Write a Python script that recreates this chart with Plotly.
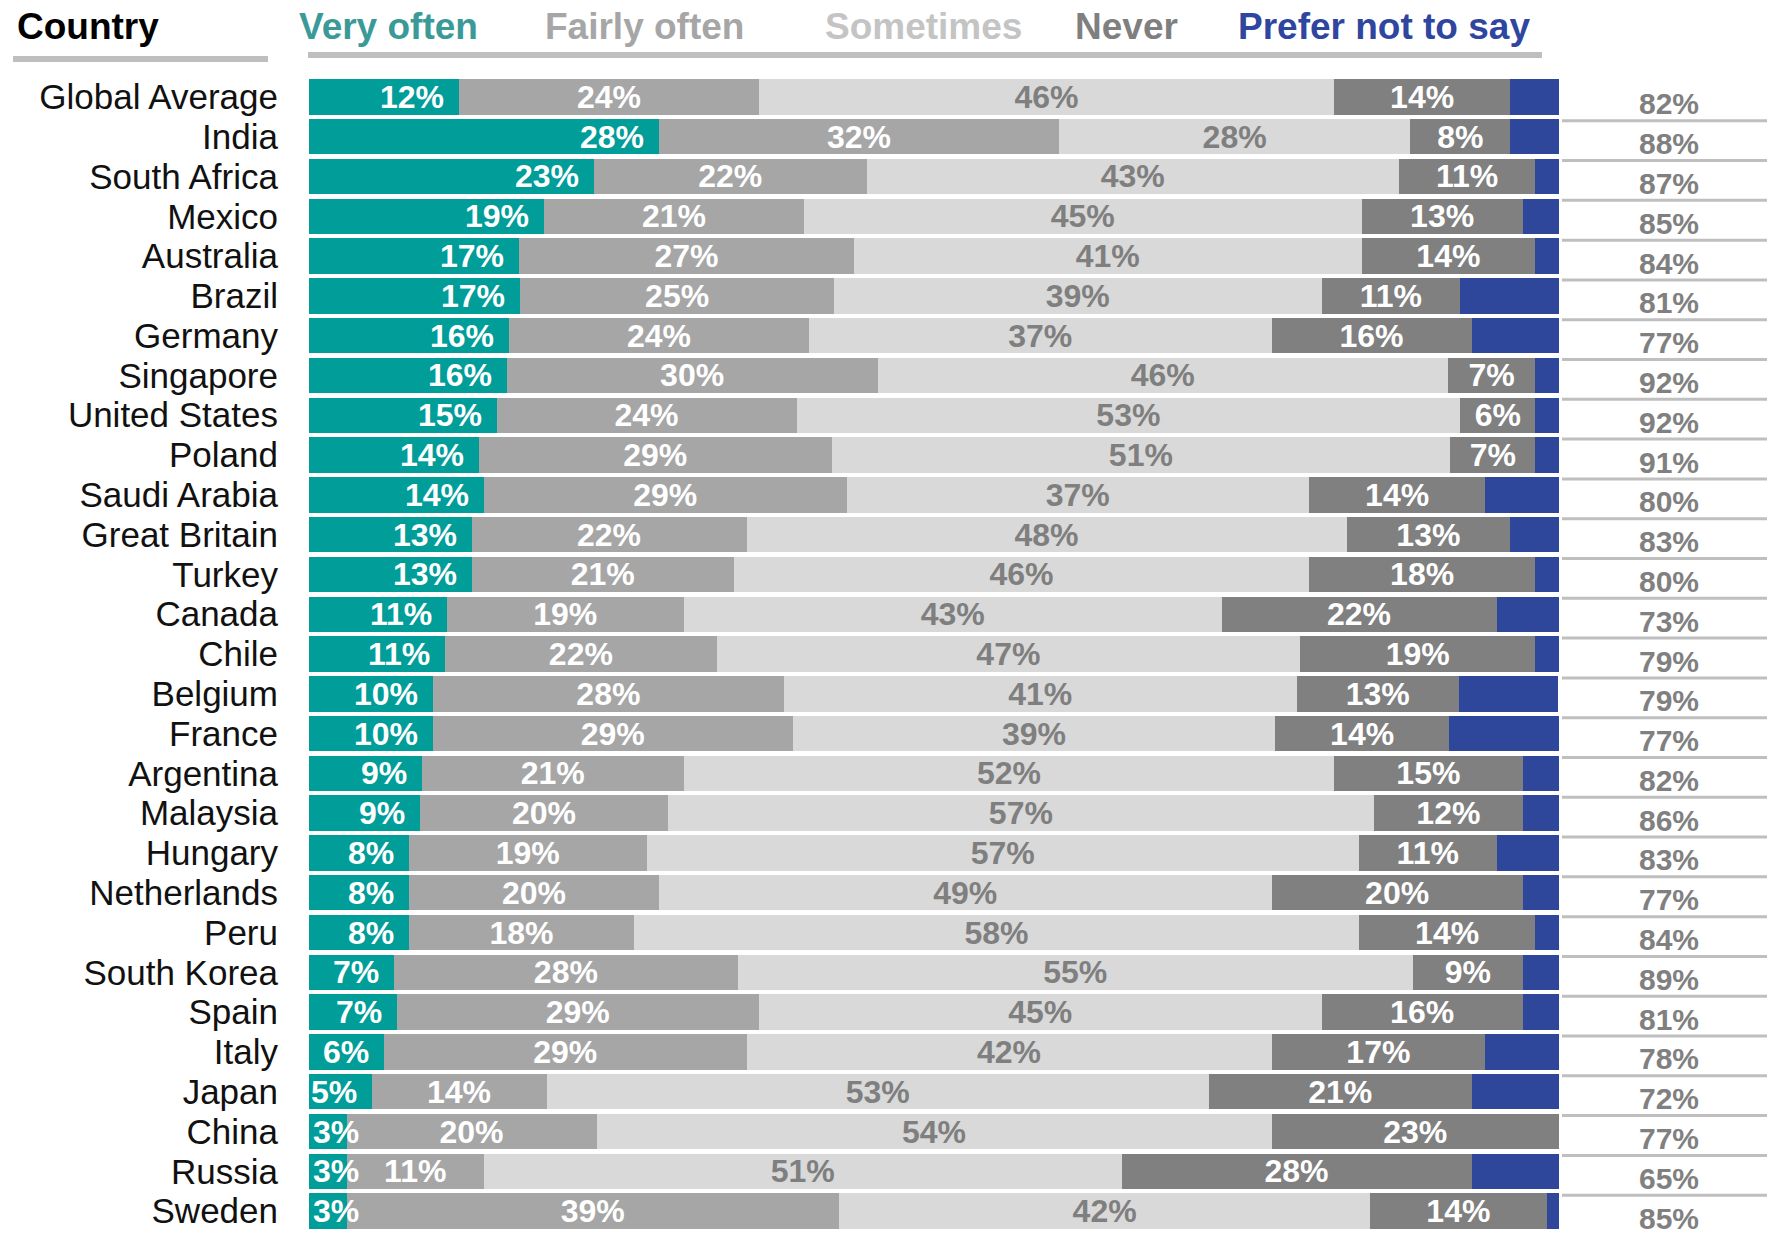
import plotly.graph_objects as go

countries = ['Global Average', 'India', 'South Africa', 'Mexico', 'Australia', 'Brazil',
             'Germany', 'Singapore', 'United States', 'Poland', 'Saudi Arabia',
             'Great Britain', 'Turkey', 'Canada', 'Chile', 'Belgium', 'France',
             'Argentina', 'Malaysia', 'Hungary', 'Netherlands', 'Peru', 'South Korea',
             'Spain', 'Italy', 'Japan', 'China', 'Russia', 'Sweden']

# bar widths
very_often = [12.0, 28.0, 22.8, 18.8, 16.8, 16.9, 16.0, 15.8, 15.0, 13.6, 14.0, 13.0, 13.0, 11.0,
              10.9, 9.9, 9.9, 9.0, 8.9, 8.0, 8.0, 8.0, 6.8, 7.0, 6.0, 5.0, 3.0, 3.0, 3.0]
fairly_often = [24.0, 32.0, 21.8, 20.8, 26.8, 25.1, 24.0, 29.7, 24.0, 28.2, 29.0, 22.0, 21.0, 19.0,
                21.7, 28.1, 28.8, 21.0, 19.8, 19.0, 20.0, 18.0, 27.5, 29.0, 29.0, 14.0, 20.0, 11.0, 39.4]
sometimes = [46.0, 28.1, 42.6, 44.6, 40.6, 39.0, 37.0, 45.6, 53.1, 49.5, 37.0, 48.0, 46.0, 43.0,
             46.7, 41.0, 38.6, 52.0, 56.5, 57.0, 49.0, 58.0, 54.0, 45.0, 42.0, 53.0, 54.0, 51.0, 42.5]
never = [14.1, 8.0, 10.9, 12.9, 13.9, 11.1, 16.0, 7.0, 6.0, 6.8, 14.1, 13.1, 18.1, 22.0,
         18.8, 13.0, 13.9, 15.1, 11.9, 11.0, 20.1, 14.1, 8.8, 16.1, 17.1, 21.0, 23.0, 28.0, 14.1]
prefer_not = [3.9, 3.9, 1.9, 2.9, 1.9, 7.9, 7.0, 1.9, 1.9, 1.9, 5.9, 3.9, 1.9, 5.0,
              1.9, 7.9, 8.8, 2.9, 2.9, 5.0, 2.9, 1.9, 2.9, 2.9, 5.9, 7.0, 0.0, 7.0, 1.0]

# printed labels
very_often_lbl = [12, 28, 23, 19, 17, 17, 16, 16, 15, 14, 14, 13, 13, 11, 11, 10, 10, 9, 9, 8, 8, 8, 7, 7, 6, 5, 3, 3, 3]
fairly_often_lbl = [24, 32, 22, 21, 27, 25, 24, 30, 24, 29, 29, 22, 21, 19, 22, 28, 29, 21, 20, 19, 20, 18, 28, 29, 29, 14, 20, 11, 39]
sometimes_lbl = [46, 28, 43, 45, 41, 39, 37, 46, 53, 51, 37, 48, 46, 43, 47, 41, 39, 52, 57, 57, 49, 58, 55, 45, 42, 53, 54, 51, 42]
never_lbl = [14, 8, 11, 13, 14, 11, 16, 7, 6, 7, 14, 13, 18, 22, 19, 13, 14, 15, 12, 11, 20, 14, 9, 16, 17, 21, 23, 28, 14]
net_lbl = [82, 88, 87, 85, 84, 81, 77, 92, 92, 91, 80, 83, 80, 73, 79, 79, 77, 82, 86, 83, 77, 84, 89, 81, 78, 72, 77, 65, 85]

headers = ['Very often', 'Fairly often', 'Sometimes', 'Never', 'Prefer not to say']
header_colors = ['#3a9a98', '#a6a6a6', '#c4c4c4', '#7f7f7f', '#2f46a0']
bar_colors = ['#009d99', '#a6a6a6', '#d9d9d9', '#808080', '#2f479b']

FONT = 'Liberation Sans, Arial, sans-serif'
W, H = 1775, 1235
OFF = 8  # page body margin, the figure is drawn 8px in from the corner
ML = 309 - OFF
MT = 77 - OFF
MB = H - (1231 - OFF)
PW, PH = W - ML, H - MT - MB


def px(x):
    # screenshot pixel -> paper x
    return (x - OFF - ML) / PW


def py(y):
    # screenshot pixel -> paper y
    return (H - MB - (y - OFF)) / PH


fig = go.Figure()

series = [
    (very_often, None, 'white'),
    (fairly_often, fairly_often_lbl, 'white'),
    (sometimes, sometimes_lbl, '#7f7f7f'),
    (never, never_lbl, 'white'),
    (prefer_not, None, 'white'),
]
for (vals, lbls, tcol), name, col in zip(series, headers, bar_colors):
    fig.add_trace(go.Bar(
        x=vals, y=countries, orientation='h', name=name,
        marker=dict(color=col, line=dict(width=0)),
        text=[f'{v}%' for v in lbls] if lbls else None,
        textposition='inside' if lbls else 'none',
        insidetextanchor='middle', textangle=0, constraintext='none',
        textfont=dict(family=FONT, size=32, color=tcol, weight='bold'),
        hoverinfo='skip',
    ))

# "Very often" labels sit at the inner end of the teal segment
for c, v, lbl in zip(countries, very_often, very_often_lbl):
    small = v < 4.5
    fig.add_annotation(
        x=0 if small else v, y=c, xref='x', yref='y',
        text=f'{lbl}%', showarrow=False,
        xanchor='left' if small else 'right', xshift=2 if small else -13,
        font=dict(family=FONT, size=32, color='white', weight='bold'),
    )

# right-hand column of totals with separator lines
for i, (c, n) in enumerate(zip(countries, net_lbl)):
    fig.add_annotation(
        x=px(1669), y=c, xref='paper', yref='y', yshift=-7,
        text=f'{n}%', showarrow=False, xanchor='center',
        font=dict(family=FONT, size=30, color='#808080', weight='bold'),
    )
    if i < len(countries) - 1:
        fig.add_shape(type='line', xref='paper', yref='y',
                      x0=px(1562), x1=1, y0=i + 0.6, y1=i + 0.6,
                      line=dict(color='#bfbfbf', width=3))

# header row
fig.add_annotation(x=px(15), y=py(27), xref='paper', yref='paper', text='Country',
                   showarrow=False, xanchor='left', yanchor='middle',
                   font=dict(family=FONT, size=37, color='black', weight='bold'))
for h, hc, cx in zip(headers, header_colors, [388, 644, 923, 1126, 1384]):
    fig.add_annotation(x=px(cx), y=py(27), xref='paper', yref='paper', text=h,
                       showarrow=False, xanchor='center', yanchor='middle',
                       font=dict(family=FONT, size=37, color=hc, weight='bold'))

fig.add_shape(type='line', xref='paper', yref='paper', x0=px(13), x1=px(268),
              y0=py(59), y1=py(59), line=dict(color='#bfbfbf', width=6))
fig.add_shape(type='line', xref='paper', yref='paper', x0=px(308), x1=px(1542),
              y0=py(55), y1=py(55), line=dict(color='#bfbfbf', width=6))

fig.update_layout(
    width=W, height=H, barmode='stack', bargap=0.11, showlegend=False,
    margin=dict(l=ML, r=0, t=MT, b=MB, autoexpand=False),
    paper_bgcolor='white', plot_bgcolor='white',
    font=dict(family=FONT),
    xaxis=dict(range=[0, 100], domain=[0, 1250 / PW], visible=False, fixedrange=True,
               automargin=False),
    yaxis=dict(type='category', categoryorder='array', categoryarray=countries,
               range=[len(countries) - 0.5, -0.5], autorange=False,
               showgrid=False, zeroline=False, showline=False,
               tickmode='linear', tick0=0, dtick=1, automargin=False,
               ticks='', ticklabelstandoff=30,
               tickfont=dict(family=FONT, size=35, color='#111111')),
)

fig.write_html('out.html')
